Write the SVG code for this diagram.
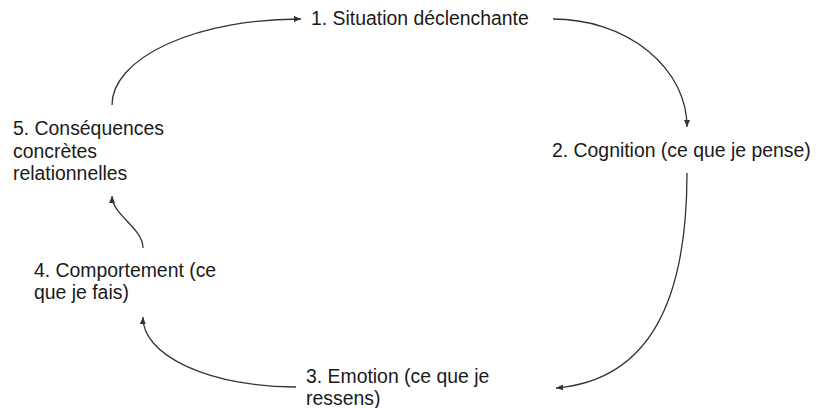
<svg xmlns="http://www.w3.org/2000/svg" width="828" height="408" viewBox="0 0 828 408">
<style>
.t{font-family:"Liberation Sans",Arial,sans-serif;font-size:19.4px;fill:#1a1a1a}
.c{fill:none;stroke:#333;stroke-width:1.3}
</style>
<defs>
<marker id="ah" markerUnits="userSpaceOnUse" markerWidth="8" markerHeight="7" refX="7" refY="3" orient="auto">
<path d="M0,0 L7,3 L0,6 z" fill="#333"/>
</marker>
</defs>
<rect width="828" height="408" fill="#fff"/>
<g id="connectors">
<path class="c" d="M112,105 A188,86 0 0 1 301,19" marker-end="url(#ah)"/>
<path class="c" d="M553,19 A134,108 0 0 1 687,127" marker-end="url(#ah)"/>
<path class="c" d="M687,173 C687,300 650,380 556,388" marker-end="url(#ah)"/>
<path class="c" d="M296,387 A152,69 0 0 1 143,317" marker-end="url(#ah)"/>
<path class="c" d="M143,248 C143,228 112,215 112,196" marker-end="url(#ah)"/>
</g>
<g id="n1"><text class="t" x="311" y="25">1. Situation déclenchante</text></g>
<g id="n2"><text class="t" x="552" y="157">2. Cognition (ce que je pense)</text></g>
<g id="n3"><text class="t" x="306" y="383">3. Emotion (ce que je</text><text class="t" x="306" y="405">ressens)</text></g>
<g id="n4"><text class="t" x="34" y="277">4. Comportement (ce</text><text class="t" x="34" y="299">que je fais)</text></g>
<g id="n5"><text class="t" x="13" y="135">5. Conséquences</text><text class="t" x="13" y="157.5">concrètes</text><text class="t" x="13" y="180">relationnelles</text></g>
</svg>
